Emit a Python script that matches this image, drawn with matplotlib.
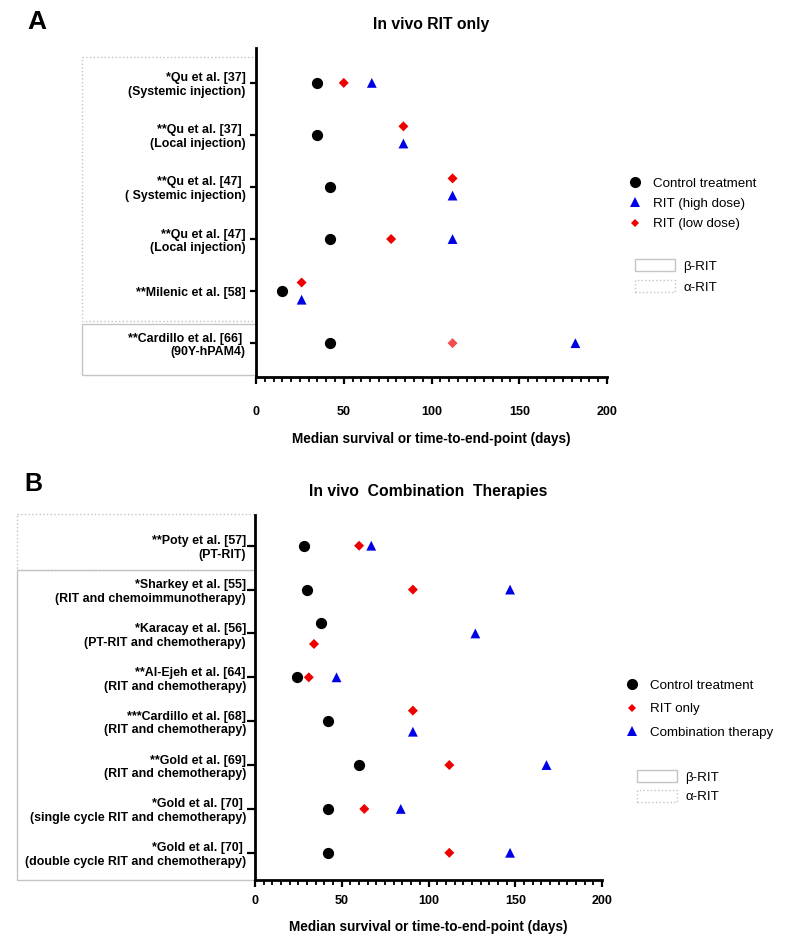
import matplotlib
matplotlib.use("Agg")
import matplotlib.pyplot as plt
from matplotlib.lines import Line2D
from matplotlib.patches import Patch, Rectangle
from matplotlib.ticker import MultipleLocator
import matplotlib.transforms as mtransforms

plt.rcParams['font.family'] = ['Liberation Sans', 'DejaVu Sans']

# ---- panel A : in vivo RIT only ----
a_labels = ["*Qu et al. [37]\n(Systemic injection)",
            "**Qu et al. [37] \n(Local injection)",
            "**Qu et al. [47] \n( Systemic injection)",
            "**Qu et al. [47]\n(Local injection)",
            "**Milenic et al. [58]",
            "**Cardillo et al. [66] \n(90Y-hPAM4)"]
a_control = [35, 35, 42, 42, 15, 42]
a_low = [50, 84, 112, 77, 26, 112]
a_high = [66, 84, 112, 112, 26, 182]

# ---- panel B : in vivo combination therapies ----
b_labels = ["**Poty et al. [57]\n(PT-RIT)",
            "*Sharkey et al. [55]\n(RIT and chemoimmunotherapy)",
            "*Karacay et al. [56]\n(PT-RIT and chemotherapy)",
            "**Al-Ejeh et al. [64]\n(RIT and chemotherapy)",
            "***Cardillo et al. [68]\n(RIT and chemotherapy)",
            "**Gold et al. [69]\n(RIT and chemotherapy)",
            "*Gold et al. [70] \n(single cycle RIT and chemotherapy)",
            "*Gold et al. [70] \n(double cycle RIT and chemotherapy)"]
b_control = [28, 30, 38, 24, 42, 60, 42, 42]
b_rit = [60, 91, 34, 31, 91, 112, 63, 112]
b_combo = [67, 147, 127, 47, 91, 168, 84, 147]

BLACK = "#000000"
RED = "#ee0000"
BLUE = "#0000e6"
GRID = "#c4c4c4"


def dodge(series, shift):
    """Vertical offsets per series: markers closer than 5 days share the row."""
    n = len(series[0])
    offs = [[0.0] * n for _ in series]
    for i in range(n):
        for a in range(len(series)):
            for b in range(a + 1, len(series)):
                if abs(series[a][i] - series[b][i]) < 5:
                    offs[a][i] = -shift
                    offs[b][i] = shift
    return offs


def style_axis(ax, labels, ylim, tickpad, labelpad, ylabpad, ylen):
    ax.set_xlim(0, 200)
    ax.set_ylim(*ylim)
    ax.set_yticks(range(len(labels)))
    ax.set_yticklabels(labels, fontsize=8.9, fontweight='bold', linespacing=1.2)
    ax.xaxis.set_major_locator(MultipleLocator(50))
    ax.xaxis.set_minor_locator(MultipleLocator(5))
    for s in ['top', 'right']:
        ax.spines[s].set_visible(False)
    for s in ['left', 'bottom']:
        ax.spines[s].set_linewidth(2)
    ax.tick_params(axis='x', which='major', length=5, width=1.6, pad=tickpad,
                   labelsize=9, direction='out')
    ax.tick_params(axis='x', which='minor', length=3.5, width=1.3, direction='out')
    ax.tick_params(axis='y', length=ylen, width=1.6, pad=ylabpad)
    for t in ax.get_xticklabels():
        t.set_fontweight('bold')
    ax.set_xlabel("Median survival or time-to-end-point (days)", fontsize=9.8,
                  fontweight='bold', labelpad=labelpad)


def group_box(ax, fig, x0, x1, y0, y1, ls):
    trans = mtransforms.blended_transform_factory(fig.transFigure, ax.transData)
    ax.add_patch(Rectangle((x0, y0), x1 - x0, y1 - y0, transform=trans,
                           fill=False, edgecolor=GRID, linewidth=1, linestyle=ls,
                           clip_on=False, zorder=0))


fig = plt.figure(figsize=(7.89, 9.44), dpi=100)
W, H = 789.0, 944.0

# ================= panel A =================
axA = fig.add_axes([256 / W, 1 - 377 / H, 351 / W, 329 / H])
rows = list(range(len(a_labels)))
off = dodge([a_control, a_low, a_high], 0.165)
axA.scatter(a_control, [r + o for r, o in zip(rows, off[0])], s=50, marker='o',
            color=BLACK, zorder=3)
low_alpha = [1, 1, 1, 1, 1, 0.7]
axA.scatter(a_low, [r + o for r, o in zip(rows, off[1])], s=26, marker='D',
            zorder=3, facecolors=[(0.93, 0, 0, a) for a in low_alpha],
            edgecolors='none')
axA.scatter(a_high, [r + o for r, o in zip(rows, off[2])], s=50, marker='^',
            color=BLUE, zorder=3, edgecolors='none')
style_axis(axA, a_labels, (5.65, -0.67), tickpad=16, labelpad=10, ylabpad=3,
           ylen=4.5)
axA.set_title("In vivo RIT only", fontsize=11.3, fontweight='bold', pad=14)
fig.text(37 / W, 1 - 22 / H, "A", fontsize=19, fontweight='bold',
         ha='center', va='center')

group_box(axA, fig, 82 / W, 256 / W, -0.5, 4.57, ':')
group_box(axA, fig, 82 / W, 256 / W, 4.63, 5.62, '-')

legA = axA.legend(handles=[
    Line2D([], [], marker='o', ls='none', color=BLACK, markersize=7),
    Line2D([], [], marker='^', ls='none', color=BLUE, markersize=7, mew=0),
    Line2D([], [], marker='D', ls='none', color=RED, markersize=4.5, mew=0)],
    labels=["Control treatment", "RIT (high dose)", "RIT (low dose)"],
    loc='upper left', bbox_to_anchor=(622 / W, 1 - 172 / H),
    bbox_transform=fig.transFigure, frameon=False, fontsize=9.6,
    handlelength=1.2, handletextpad=0.75, labelspacing=0.6, borderaxespad=0)
axA.add_artist(legA)
axA.legend(handles=[
    Patch(facecolor='white', edgecolor=GRID, linewidth=1, linestyle='-'),
    Patch(facecolor='white', edgecolor=GRID, linewidth=1, linestyle=':')],
    labels=["β-RIT", "α-RIT"],
    loc='upper left', bbox_to_anchor=(630 / W, 1 - 254 / H),
    bbox_transform=fig.transFigure, frameon=False, fontsize=9.6,
    handlelength=3.0, handleheight=1.0, handletextpad=0.6, labelspacing=0.55,
    borderaxespad=0)

# ================= panel B =================
axB = fig.add_axes([255 / W, 1 - 880 / H, 347 / W, 365 / H])
rows = list(range(len(b_labels)))
off = dodge([b_control, b_rit, b_combo], 0.24)
axB.scatter(b_control, [r + o for r, o in zip(rows, off[0])], s=50, marker='o',
            color=BLACK, zorder=3)
axB.scatter(b_rit, [r + o for r, o in zip(rows, off[1])], s=26, marker='D',
            color=RED, zorder=3, edgecolors='none')
axB.scatter(b_combo, [r + o for r, o in zip(rows, off[2])], s=50, marker='^',
            color=BLUE, zorder=3, edgecolors='none')
style_axis(axB, b_labels, (7.62, -0.7), tickpad=5.5, labelpad=10, ylabpad=0.5,
           ylen=6)
axB.set_title("In vivo  Combination  Therapies", fontsize=11.3,
              fontweight='bold', pad=14)
fig.text(33 / W, 1 - 484 / H, "B", fontsize=18, fontweight='bold',
         ha='center', va='center')

group_box(axB, fig, 17 / W, 255 / W, -0.72, 0.55, ':')
group_box(axB, fig, 17 / W, 255 / W, 0.55, 7.62, '-')

legB = axB.legend(handles=[
    Line2D([], [], marker='o', ls='none', color=BLACK, markersize=7),
    Line2D([], [], marker='D', ls='none', color=RED, markersize=4.5, mew=0),
    Line2D([], [], marker='^', ls='none', color=BLUE, markersize=7, mew=0)],
    labels=["Control treatment", "RIT only", "Combination therapy"],
    loc='upper left', bbox_to_anchor=(619 / W, 1 - 674 / H),
    bbox_transform=fig.transFigure, frameon=False, fontsize=9.6,
    handlelength=1.2, handletextpad=0.75, labelspacing=0.85, borderaxespad=0)
axB.add_artist(legB)
axB.legend(handles=[
    Patch(facecolor='white', edgecolor=GRID, linewidth=1, linestyle='-'),
    Patch(facecolor='white', edgecolor=GRID, linewidth=1, linestyle=':')],
    labels=["β-RIT", "α-RIT"],
    loc='upper left', bbox_to_anchor=(632 / W, 1 - 765 / H),
    bbox_transform=fig.transFigure, frameon=False, fontsize=9.6,
    handlelength=3.0, handleheight=1.0, handletextpad=0.6, labelspacing=0.45,
    borderaxespad=0)

fig.savefig("out.png", dpi=100, facecolor='white')
